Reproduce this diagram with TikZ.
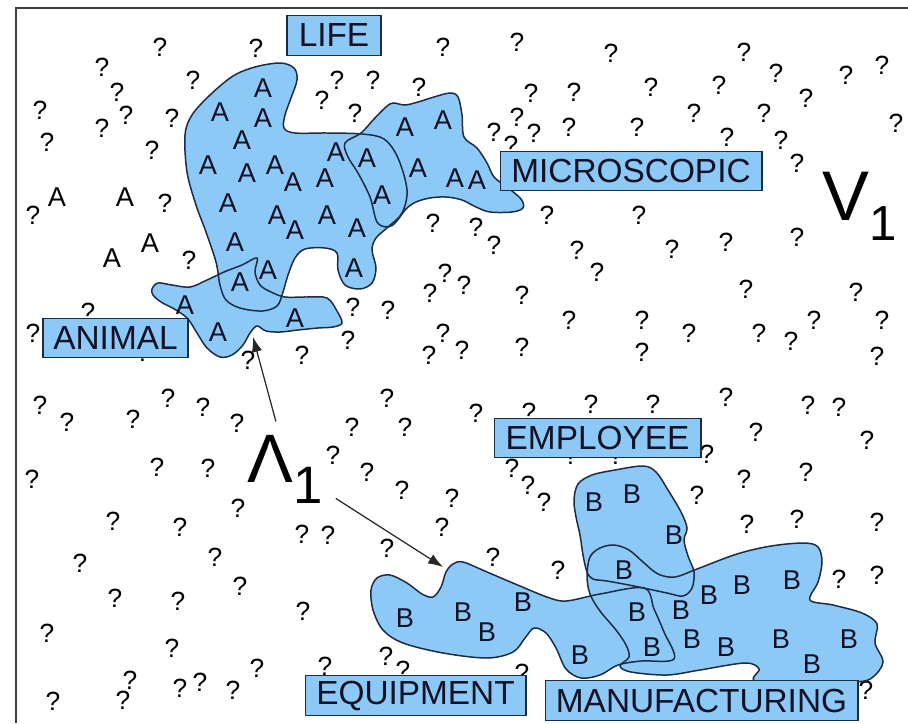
\documentclass[tikz,border=0pt]{standalone}
\usepackage{fontspec}
\setmainfont{Liberation Sans}
\usetikzlibrary{arrows.meta}
\definecolor{blobblue}{RGB}{141,201,247}
\definecolor{blobedge}{RGB}{28,44,68}
\definecolor{inktext}{RGB}{18,18,38}

% outlines of the regions, drawn twice (fill, then line)
\newcommand\lifeshape[1]{\path[#1] plot[smooth cycle,tension=.55] coordinates {(185,135) (192,115) (210,95) (233,76) (255,67) (280,63) (294,68) (297,80) (291,98) (285,115) (284,128) (295,133) (327,133) (362,134) (384,139) (398,158) (407,190) (402,213) (388,227) (376,238) (372,250) (376,268) (372,283) (360,289) (345,285) (338,270) (337,253) (325,248) (305,249) (295,258) (288,275) (283,292) (277,306) (262,311) (240,308) (226,300) (220,285) (216,262) (206,232) (196,205) (187,172)};}
\newcommand\microshape[1]{\path[#1] plot[smooth cycle,tension=.55] coordinates {(361,133) (374,119) (386,107) (393,103) (405,105) (418,102) (434,97) (450,93) (458,97) (462,115) (464,137) (477,148) (487,163) (494,177) (507,187) (521,199) (523,208) (512,212) (490,212) (476,207) (462,200) (446,197) (430,198) (416,202) (406,209) (396,222) (388,227) (377,222) (370,197) (358,173) (348,157) (345,143)};}
\newcommand\animalshape[1]{\path[#1] plot[smooth cycle,tension=.55] coordinates {(152,289) (158,283) (172,285) (190,287) (207,280) (224,272) (242,265) (257,258) (255,272) (260,285) (271,292) (285,297) (307,297) (327,298) (337,311) (342,323) (333,327) (318,328) (298,330) (280,332) (266,331) (257,326) (250,333) (243,345) (232,355) (220,357) (207,348) (197,333) (188,319) (176,310) (161,302) (153,295)};}
\newcommand\equipshape[1]{\path[#1] plot[smooth cycle,tension=.55] coordinates {(377,578) (390,575) (407,583) (422,594) (433,597) (441,587) (446,572) (453,564) (463,562) (487,572) (520,586) (547,597) (566,601) (600,594) (644,588) (654,609) (664,632) (674,659) (641,661) (618,665) (600,675) (581,678) (566,669) (556,648) (546,633) (534,628) (525,638) (513,652) (487,658) (443,653) (403,643) (383,630) (373,610) (371,590)};}
\newcommand\employshape[1]{\path[#1] plot[smooth cycle,tension=.55] coordinates {(574,500) (578,484) (592,475) (615,470) (643,466) (656,472) (668,490) (681,512) (687,528) (684,540) (688,556) (694,572) (692,588) (683,596) (667,593) (634,586) (607,581) (593,579) (587,572) (583,555) (580,535) (576,517)};}
\newcommand\manushape[1]{\path[#1] plot[smooth cycle,tension=.55] coordinates {(590,557) (600,548) (614,545) (629,550) (643,562) (658,574) (675,577) (697,569) (737,554) (771,546) (804,543) (818,547) (822,562) (818,582) (810,600) (833,605) (862,613) (877,624) (875,643) (883,662) (873,677) (857,682) (800,685) (755,681) (759,669) (745,663) (700,670) (667,675) (631,672) (620,666) (629,657) (626,645) (616,630) (600,611) (590,594) (587,576)};}

\begin{document}
\begin{tikzpicture}[x=0.02cm,y=-0.02cm,
    qm/.style={font=\fontsize{15}{15}\selectfont, inner sep=0pt},
    letter/.style={font=\fontsize{15.5}{16}\selectfont, inner sep=0pt, text=inktext},
    blobfill/.style={fill=blobblue},
    blobline/.style={draw=blobedge, line width=0.85pt},
    tag/.style={draw=blobedge, fill=blobblue, line width=0.6pt, text=inktext,
        font=\fontsize{19}{19}\selectfont, inner sep=0pt, minimum height=0.79cm},
    pointer/.style={draw=black!85, line width=0.7pt, -{Latex[length=8.5pt,width=6pt]}}]
    \useasboundingbox (0,0) rectangle (908,723);
    % Frame
    \draw[line width=0.8pt, black!75] (16,723) -- (16,8) -- (908,8);
    % Unknown words
    \foreach \qx/\qy [count=\i] in {160/47, 256/48, 443/47, 102/67, 193/80, 337/80, 322/100, 373/80, 419/87, 117/92,
        40/110, 126/115, 102/128, 172/118, 355/113, 47/142, 152/150, 33/215, 165/203, 189/260,
        88/312, 33/333, 353/307, 388/310, 430/293, 445/273, 433/223, 348/340, 443/333, 302/355,
        248/360, 143/352, 429/355,
        517/42, 611/53, 744/52, 776/73, 846/75, 882/65, 531/93, 574/92, 651/87, 719/85,
        806/98, 694/113, 764/113, 896/123, 517/117, 494/132, 534/133, 569/127, 637/127, 727/137,
        781/140, 511/145, 797/163, 547/215, 639/215, 476/227, 494/245, 797/237, 577/250, 597/272,
        672/249, 726/242, 464/285, 522/295, 746/289, 856/292, 569/320, 642/320, 689/333, 759/333,
        791/341, 814/320, 882/320, 462/350, 522/347, 642/352, 877/356, 699/180, 747/180,
        40/405, 67/422, 133/419, 168/398, 203/407, 237/423, 32/479, 157/467, 208/468, 238/508,
        113/521, 180/527, 387/398, 352/427, 405/427, 333/455, 367/472, 402/490, 452/498, 442/527,
        302/534, 328/535, 387/548, 80/563, 215/557, 240/586, 115/598, 178/601, 303/611, 47/633,
        172/648, 130/680, 123/700, 180/688, 200/682, 233/690, 257/668, 53/701, 325/666, 386/656,
        403/670, 493/557, 558/570, 476/413, 529/412, 591/404, 653/404, 726/397, 808/405, 839/407,
        756/432, 867/440, 707/454, 512/468, 528/485, 544/502, 744/479, 806/472, 697/495, 747/524,
        797/519, 877/522, 839/579, 877/575, 866/690, 522/673, 571/455, 616/455}
        \node[qm] (q\i) at (\qx,\qy) {?};
    % Loose A's
    \foreach \ax/\ay [count=\i] in {57/197, 125/197, 150/243, 112/258}
        \node[letter, text=black] (free\i) at (\ax,\ay) {A};
    % Regions
    \lifeshape{blobfill} \microshape{blobfill} \animalshape{blobfill}
    \equipshape{blobfill} \employshape{blobfill} \manushape{blobfill}
    \lifeshape{blobline} \microshape{blobline} \animalshape{blobline}
    \equipshape{blobline} \employshape{blobline} \manushape{blobline}
    % A's and B's
    \foreach \ax/\ay [count=\i] in {263/88, 220/112, 263/118, 242/140, 208/165, 247/173, 275/165, 293/182, 325/178, 336/152,
        228/203, 277/215, 295/230, 327/215, 357/228, 235/242, 268/270, 240/282, 354/268, 185/305,
        218/332, 295/318, 405/127, 443/120, 367/158, 382/195, 418/168, 455/178, 477/180}
        \node[letter] (a\i) at (\ax,\ay) {A};
    \foreach \bx/\by [count=\i] in {594/502, 632/494, 674/535, 624/570, 405/618, 463/612, 487/632, 523/602, 580/655, 637/612,
        652/647, 681/610, 692/639, 709/595, 742/585, 792/580, 726/647, 781/639, 812/664, 849/639}
        \node[letter] (b\i) at (\bx,\by) {B};
    % Labels
    \node[tag, minimum width=1.88cm] (life) at (334,35.5) {LIFE};
    \node[tag, minimum width=5.24cm] (micro) at (631,171) {MICROSCOPIC};
    \node[tag, minimum width=2.9cm] (animal) at (115.5,338) {ANIMAL};
    \node[tag, minimum width=4.14cm] (employ) at (597.5,438) {EMPLOYEE};
    \node[tag, minimum width=4.42cm] (equip) at (415.5,695.5) {EQUIPMENT};
    \node[tag, minimum width=6.26cm] (manu) at (701.5,700.5) {MANUFACTURING};
    % Lambda and V
    \node[anchor=base west, inner sep=0pt, font=\fontsize{39}{39}\selectfont] (lam) at (247,482)
        {Λ\raisebox{-12pt}{\fontsize{30}{30}\selectfont 1}};
    \node[anchor=base west, inner sep=0pt, font=\fontsize{40}{40}\selectfont] (vee) at (822,220)
        {V\raisebox{-11.4pt}{\fontsize{28}{28}\selectfont 1}};
    % Arrows
    \coordinate (animaltip) at (253,337);
    \coordinate (equiptip) at (443,567);
    \draw[pointer] ([shift={(-9,-13)}]lam.north) -- (animaltip);
    \draw[pointer] ([shift={(13,-5)}]lam.south east) -- (equiptip);
\end{tikzpicture}
\end{document}
